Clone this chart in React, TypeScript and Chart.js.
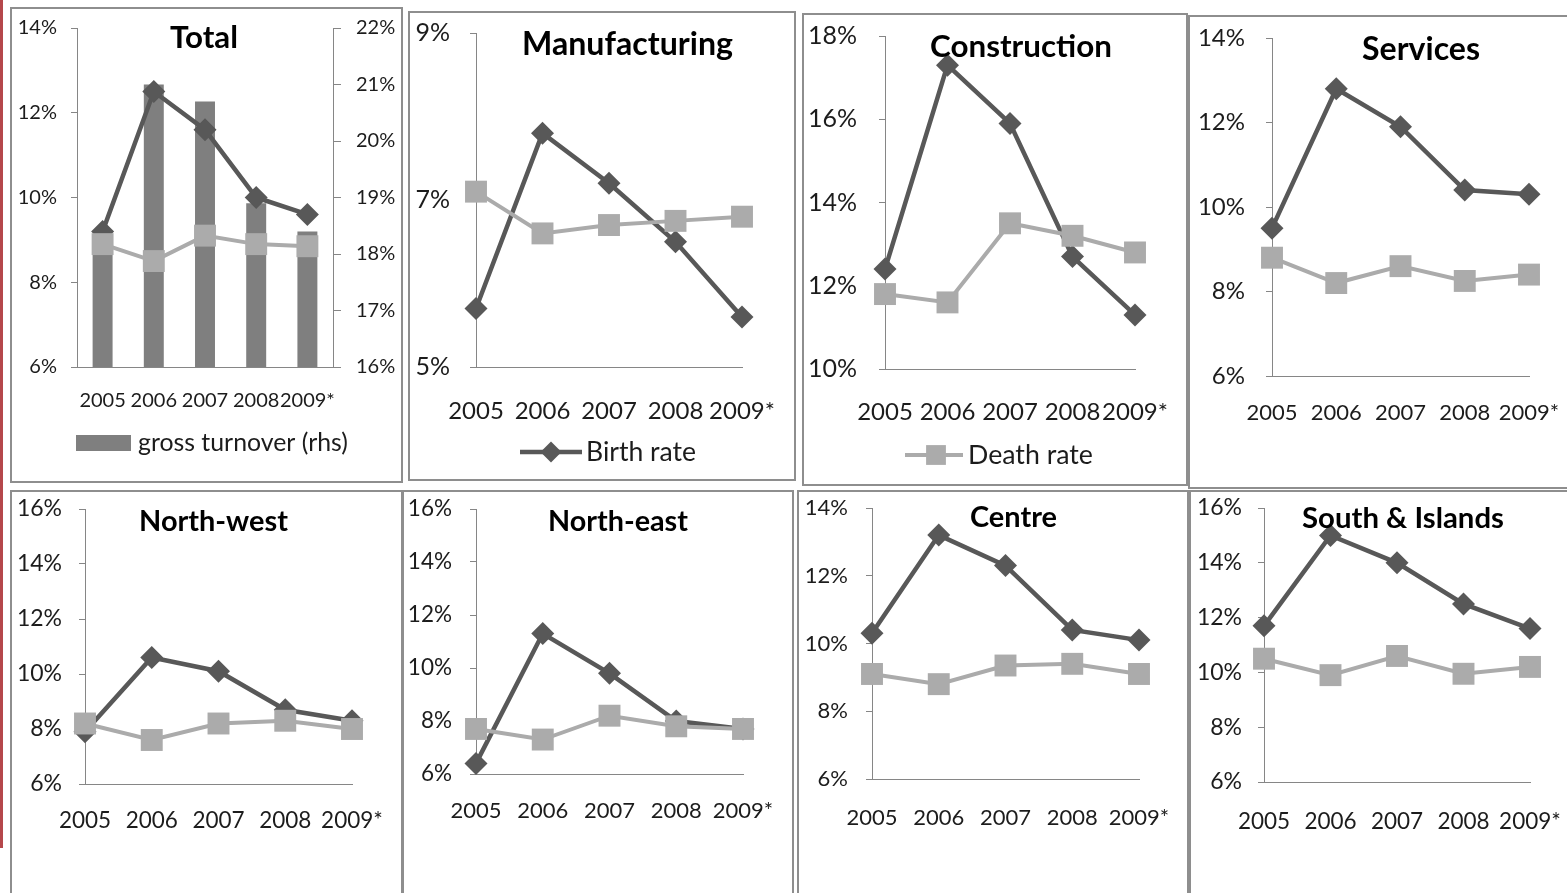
import React, { useEffect, useRef } from 'react';
import { Chart, registerables } from 'chart.js';

Chart.register(...registerables);

// ---------- data ----------
const categories = ['2005', '2006', '2007', '2008', '2009*'];
const seriesNames = ['Birth rate', 'Death rate', 'gross turnover (rhs)'];

const totalBirth = [9.2, 12.5, 11.6, 10.0, 9.6];
const totalDeath = [8.9, 8.5, 9.1, 8.9, 8.85];
const totalTurnover = [18.1, 21.0, 20.7, 18.9, 18.4];

const manufBirth = [5.7, 7.8, 7.2, 6.5, 5.6];
const manufDeath = [7.1, 6.6, 6.7, 6.75, 6.8];

const constrBirth = [12.4, 17.3, 15.9, 12.7, 11.3];
const constrDeath = [11.8, 11.6, 13.5, 13.2, 12.8];

const servBirth = [9.5, 12.8, 11.9, 10.4, 10.3];
const servDeath = [8.8, 8.2, 8.6, 8.25, 8.4];

const nwBirth = [7.9, 10.6, 10.1, 8.7, 8.3];
const nwDeath = [8.2, 7.6, 8.2, 8.3, 8.0];

const neBirth = [6.4, 11.3, 9.8, 8.0, 7.7];
const neDeath = [7.7, 7.3, 8.2, 7.8, 7.7];

const centreBirth = [10.3, 13.2, 12.3, 10.4, 10.1];
const centreDeath = [9.1, 8.8, 9.35, 9.4, 9.1];

const southBirth = [11.7, 15.0, 14.0, 12.5, 11.6];
const southDeath = [10.5, 9.9, 10.6, 9.95, 10.2];

// ---------- styles ----------
const DARK = '#585858';
const LIGHT = '#ababab';
const BAR = '#7f7f7f';
const AXIS = '#868686';
const TEXT = '#1c1c1c';
const BORDER = '#8e8e8e';
const FONT = 'Lato, "Open Sans", sans-serif';
const PAGE_W = 1567;
const PAGE_H = 893;

type Box = { l: number; t: number; r: number; b: number };
type Legend = {
  kind: 'bar' | 'line';
  dataset: number;
  x0: number;
  x1: number;
  y: number;
  h?: number;
  mx?: number;
  tx: number;
  tw: number;
};
type Spec = {
  id: string;
  title: string;
  titleX: number;
  titleBase: number;
  titleW: number;
  birth: number[];
  death: number[];
  turnover?: number[];
  yMin: number;
  yMax: number;
  yStep: number;
  y2?: { min: number; max: number; step: number; font: number; pad: number };
  box: Box;
  area: Box;
  yFont: number;
  xFont: number;
  yPad: number;
  xPad: number;
  legend?: Legend;
};

const specs: Spec[] = [
  {
    id: 'total', title: 'Total', titleX: 204, titleBase: 48, titleW: 68,
    birth: totalBirth, death: totalDeath, turnover: totalTurnover,
    yMin: 6, yMax: 14, yStep: 2,
    y2: { min: 16, max: 22, step: 1, font: 20, pad: 15 },
    box: { l: 10, t: 7, r: 403, b: 483 }, area: { l: 77, t: 28, r: 333, b: 367 },
    yFont: 20, xFont: 20, yPad: 14, xPad: 22,
    legend: { kind: 'bar', dataset: 2, x0: 76, x1: 131, y: 443, h: 16, tx: 138, tw: 210 },
  },
  {
    id: 'manuf', title: 'Manufacturing', titleX: 627.5, titleBase: 55, titleW: 211,
    birth: manufBirth, death: manufDeath,
    yMin: 5, yMax: 9, yStep: 2,
    box: { l: 408, t: 11, r: 796, b: 481 }, area: { l: 476, t: 33, r: 742, b: 367 },
    yFont: 25, xFont: 24, yPad: 20, xPad: 29.5,
    legend: { kind: 'line', dataset: 0, x0: 520, x1: 582, y: 452, mx: 551, tx: 586, tw: 110 },
  },
  {
    id: 'constr', title: 'Construction', titleX: 1021, titleBase: 57, titleW: 182,
    birth: constrBirth, death: constrDeath,
    yMin: 10, yMax: 18, yStep: 2,
    box: { l: 802, t: 13, r: 1188, b: 486 }, area: { l: 885, t: 36, r: 1135, b: 369 },
    yFont: 25, xFont: 24, yPad: 22, xPad: 28.6,
    legend: { kind: 'line', dataset: 1, x0: 905, x1: 963, y: 455, mx: 936, tx: 968, tw: 125 },
  },
  {
    id: 'serv', title: 'Services', titleX: 1421, titleBase: 60, titleW: 118,
    birth: servBirth, death: servDeath,
    yMin: 6, yMax: 14, yStep: 2,
    box: { l: 1188, t: 15, r: 1575, b: 489 }, area: { l: 1272, t: 38, r: 1529, b: 376 },
    yFont: 24, xFont: 22, yPad: 21, xPad: 23.3,
  },
  {
    id: 'nw', title: 'North-west', titleX: 213.5, titleBase: 531, titleW: 149,
    birth: nwBirth, death: nwDeath,
    yMin: 6, yMax: 16, yStep: 2,
    box: { l: 10, t: 490, r: 403, b: 900 }, area: { l: 85, t: 509, r: 352, b: 784 },
    yFont: 23, xFont: 22.5, yPad: 17, xPad: 22.8,
  },
  {
    id: 'ne', title: 'North-east', titleX: 618, titleBase: 531, titleW: 140,
    birth: neBirth, death: neDeath,
    yMin: 6, yMax: 16, yStep: 2,
    box: { l: 402, t: 490, r: 794, b: 900 }, area: { l: 476, t: 509, r: 743, b: 774 },
    yFont: 22.5, xFont: 22, yPad: 18, xPad: 24,
  },
  {
    id: 'centre', title: 'Centre', titleX: 1013.5, titleBase: 527, titleW: 87,
    birth: centreBirth, death: centreDeath,
    yMin: 6, yMax: 14, yStep: 2,
    box: { l: 797, t: 490, r: 1189, b: 900 }, area: { l: 872, t: 508, r: 1139, b: 779 },
    yFont: 22, xFont: 22, yPad: 18, xPad: 25.3,
  },
  {
    id: 'south', title: 'South & Islands', titleX: 1403, titleBase: 528, titleW: 202,
    birth: southBirth, death: southDeath,
    yMin: 6, yMax: 16, yStep: 2,
    box: { l: 1189, t: 490, r: 1575, b: 900 }, area: { l: 1264, t: 508, r: 1530, b: 782 },
    yFont: 23, xFont: 22.5, yPad: 16, xPad: 25.8,
  },
];

function fitFont(ctx: CanvasRenderingContext2D, text: string, width: number, bold: boolean) {
  ctx.font = `${bold ? 'bold ' : ''}100px ${FONT}`;
  const w = ctx.measureText(text).width || 1;
  const size = (100 * width) / w;
  ctx.font = `${bold ? 'bold ' : ''}${size}px ${FONT}`;
  return size;
}

function drawMarker(ctx: CanvasRenderingContext2D, style: string, x: number, y: number, r: number, color: string) {
  ctx.fillStyle = color;
  ctx.beginPath();
  if (style === 'rectRot') {
    ctx.moveTo(x, y - r);
    ctx.lineTo(x + r, y);
    ctx.lineTo(x, y + r);
    ctx.lineTo(x - r, y);
    ctx.closePath();
  } else {
    const s = r * Math.SQRT1_2;
    ctx.rect(x - s, y - s, 2 * s, 2 * s);
  }
  ctx.fill();
}

function Panel({ spec }: { spec: Spec }) {
  const ref = useRef<HTMLCanvasElement>(null);
  const W = Math.min(spec.box.r, PAGE_W) - spec.box.l;
  const H = Math.min(spec.box.b, PAGE_H) - spec.box.t;

  useEffect(() => {
    const canvas = ref.current;
    if (!canvas) return;
    const ox = spec.box.l;
    const oy = spec.box.t;
    const want = {
      left: spec.area.l - ox,
      top: spec.area.t - oy,
      right: spec.area.r - ox,
      bottom: spec.area.b - oy,
    };
    const yW = want.left;
    const rightGap = W - want.right;
    const xH = H - want.bottom;
    const pad = { left: 0, top: want.top, right: spec.y2 ? 0 : rightGap, bottom: 0 };

    const datasets: any[] = [
      {
        type: 'line', label: seriesNames[0], data: spec.birth, yAxisID: 'y', order: 2,
        borderColor: DARK, backgroundColor: DARK, borderWidth: 4.5, tension: 0,
        pointStyle: 'rectRot', pointRadius: 11.5, pointBorderWidth: 0,
        pointBackgroundColor: DARK, pointBorderColor: DARK, clip: false,
      },
      {
        type: 'line', label: seriesNames[1], data: spec.death, yAxisID: 'y', order: 1,
        borderColor: LIGHT, backgroundColor: LIGHT, borderWidth: 4, tension: 0,
        pointStyle: 'rect', pointRadius: 15.5, pointBorderWidth: 0,
        pointBackgroundColor: LIGHT, pointBorderColor: LIGHT, clip: false,
      },
    ];
    if (spec.turnover) {
      datasets.push({
        type: 'bar', label: seriesNames[2], data: spec.turnover, yAxisID: 'y1', order: 3,
        backgroundColor: BAR, borderWidth: 0, barPercentage: 0.39, categoryPercentage: 1,
      });
    }

    const zeroPad = (s: any) => {
      s.paddingLeft = 0;
      s.paddingRight = 0;
      s.paddingTop = 0;
      s.paddingBottom = 0;
    };

    const scales: any = {
      x: {
        type: 'category',
        offset: !!spec.turnover,
        grid: { display: true, drawOnChartArea: false, drawTicks: false },
        border: { display: true, color: AXIS, width: 1 },
        ticks: {
          padding: spec.xPad, color: TEXT, maxRotation: 0, minRotation: 0, autoSkip: false,
          font: { family: FONT, size: spec.xFont },
        },
        afterFit: (s: any) => { s.height = xH; zeroPad(s); },
      },
      y: {
        type: 'linear', position: 'left', min: spec.yMin, max: spec.yMax,
        grid: { display: true, drawOnChartArea: false, drawTicks: true, tickLength: 6, color: AXIS, lineWidth: 1 },
        border: { display: true, color: AXIS, width: 1 },
        ticks: {
          stepSize: spec.yStep, padding: spec.yPad, color: TEXT,
          font: { family: FONT, size: spec.yFont },
          callback: (v: any) => `${v}%`,
        },
        afterFit: (s: any) => { s.width = yW; zeroPad(s); },
      },
    };
    if (spec.y2) {
      scales.y1 = {
        type: 'linear', position: 'right', min: spec.y2.min, max: spec.y2.max,
        grid: { display: true, drawOnChartArea: false, drawTicks: true, tickLength: 8, color: AXIS, lineWidth: 1 },
        border: { display: true, color: AXIS, width: 1 },
        ticks: {
          stepSize: spec.y2.step, padding: spec.y2.pad, color: TEXT,
          font: { family: FONT, size: spec.y2.font },
          callback: (v: any) => `${v}%`,
        },
        afterFit: (s: any) => { s.width = rightGap; zeroPad(s); },
      };
    }

    const overlay = {
      id: 'overlay',
      afterDraw(chart: any) {
        const ctx: CanvasRenderingContext2D = chart.ctx;
        ctx.save();
        fitFont(ctx, spec.title, spec.titleW, true);
        ctx.fillStyle = '#000000';
        ctx.textAlign = 'center';
        ctx.textBaseline = 'alphabetic';
        ctx.fillText(spec.title, spec.titleX - ox, spec.titleBase - oy);
        const lg = spec.legend;
        if (lg) {
          const ds = chart.data.datasets[lg.dataset];
          if (lg.kind === 'bar') {
            ctx.fillStyle = ds.backgroundColor;
            const h = lg.h || 16;
            ctx.fillRect(lg.x0 - ox, lg.y - h / 2 - oy, lg.x1 - lg.x0, h);
          } else {
            ctx.strokeStyle = ds.borderColor;
            ctx.lineWidth = ds.borderWidth;
            ctx.beginPath();
            ctx.moveTo(lg.x0 - ox, lg.y - oy);
            ctx.lineTo(lg.x1 - ox, lg.y - oy);
            ctx.stroke();
            drawMarker(ctx, ds.pointStyle, (lg.mx || 0) - ox, lg.y - oy, ds.pointStyle === 'rect' ? 14 : 10.5, ds.pointBackgroundColor);
          }
          fitFont(ctx, ds.label, lg.tw, false);
          ctx.fillStyle = TEXT;
          ctx.textAlign = 'left';
          ctx.textBaseline = 'middle';
          ctx.fillText(ds.label, lg.tx - ox, lg.y - oy);
        }
        ctx.restore();
      },
    };

    const chart: any = new Chart(canvas, {
      type: spec.turnover ? 'bar' : 'line',
      data: { labels: categories, datasets },
      options: {
        responsive: false,
        maintainAspectRatio: false,
        animation: false,
        layout: { autoPadding: false, padding: { ...pad } },
        plugins: { legend: { display: false }, tooltip: { enabled: false }, title: { display: false } },
        scales,
      } as any,
      plugins: [overlay],
    } as any);

    // nudge layout padding so the plot area lands where the reference has it
    for (let i = 0; i < 3; i++) {
      const ca = chart.chartArea;
      const dTop = want.top - ca.top;
      const dRight = ca.right - want.right;
      if (Math.abs(dTop) < 0.5 && Math.abs(dRight) < 0.5) break;
      pad.top += dTop;
      if (!spec.y2) pad.right += dRight;
      chart.options.layout.padding = { ...pad };
      chart.update('none');
    }

    return () => chart.destroy();
  }, []);

  return (
    <canvas
      ref={ref}
      width={W}
      height={H}
      style={{ position: 'absolute', left: spec.box.l, top: spec.box.t, width: W, height: H }}
    />
  );
}

export default function App() {
  return (
    <div
      style={{
        position: 'fixed', left: 0, top: 0, width: PAGE_W, height: PAGE_H,
        overflow: 'hidden', background: '#ffffff', fontFamily: FONT,
      }}
    >
      <div style={{ position: 'absolute', left: 0, top: 0, width: 3, height: 848, background: '#b5474b' }} />
      {specs.map((s) => (
        <Panel key={s.id} spec={s} />
      ))}
      {specs.map((s) => (
        <div
          key={`b-${s.id}`}
          style={{
            position: 'absolute', left: s.box.l, top: s.box.t,
            width: s.box.r - s.box.l, height: s.box.b - s.box.t,
            boxSizing: 'border-box', border: `2px solid ${BORDER}`, pointerEvents: 'none',
          }}
        />
      ))}
    </div>
  );
}
